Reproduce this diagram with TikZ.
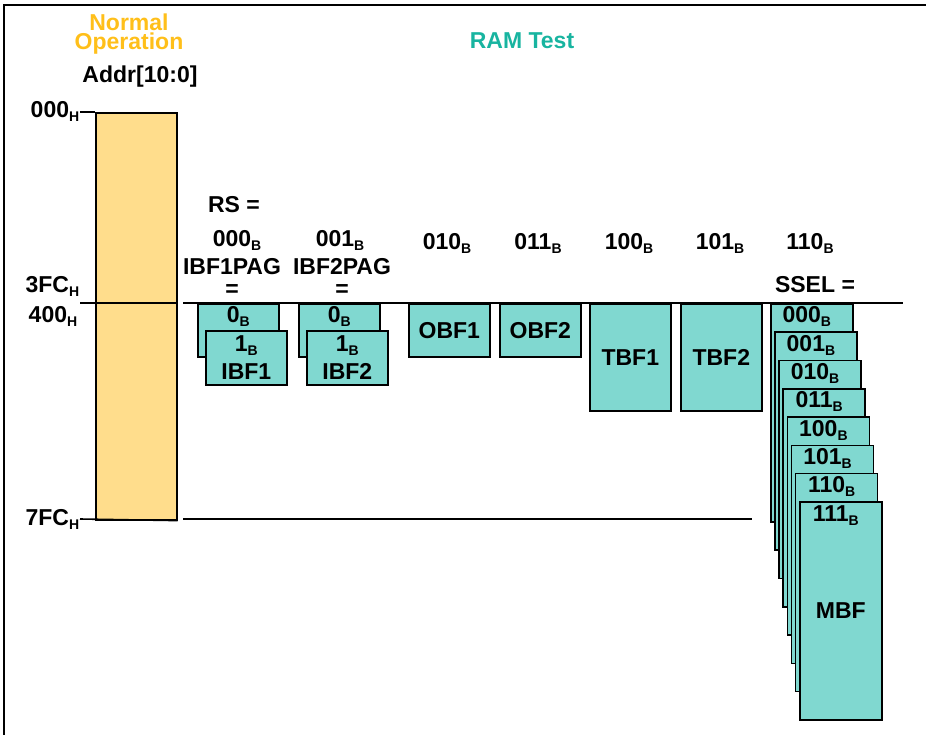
\documentclass[tikz,border=0pt]{standalone}
\usepackage{fontspec}
\setmainfont{Liberation Sans}
\usetikzlibrary{positioning}

\definecolor{bartan}{HTML}{FFDD8C}
\definecolor{bufteal}{HTML}{80D8D0}
\definecolor{normorange}{HTML}{FFBF1A}
\definecolor{ramteal}{HTML}{18B4A0}

% subscript for hex / binary values
\newcommand{\sbs}[1]{\raisebox{-4pt}{\fontsize{14}{14}\selectfont #1}}

\begin{document}
\begin{tikzpicture}[x=1pt, y=-1pt, line width=1.6pt,
    txt/.style={inner sep=0pt, font=\fontsize{23}{26}\selectfont\bfseries},
    bufbox/.style={draw, fill=bufteal, inner sep=0pt, anchor=north west,
      font=\fontsize{23}{28}\selectfont\bfseries, align=center},
    membar/.style={draw, fill=bartan, inner sep=0pt, anchor=north west}]
	\useasboundingbox (0,0) rectangle (926,735);

	% frame (top and left edge)
	\coordinate (frtl) at (4,5);
	\coordinate (frtr) at (926,5);
	\coordinate (frbl) at (4,735);
	\draw[line width=2pt] (frtr) -- (frtl) -- (frbl);

	% titles
	\node[txt, text=normorange, align=center, font=\fontsize{23}{19}\selectfont\bfseries, anchor=base] (normal) at (129,50) {Normal\\Operation};
	\node[txt, text=ramteal, anchor=base] (ramtest) at (522,49) {RAM Test};
	\node[txt, anchor=base] (addr) at (140,83) {Addr[10:0]};

	% normal operation address range
	\node[membar, minimum width=81, minimum height=407] (nbar) at (95,112) {};
	\coordinate (t000) at (80,112);
	\coordinate (t3fc) at (80,303);
	\coordinate (t7fc) at (80,519);
	\draw (t000) -- (nbar.north west);
	\draw (t3fc) -- (t3fc -| nbar.east);
	\draw (t7fc) -- (nbar.south east);
	\node[txt, anchor=base east] (a000) at (80,118) {000\sbs{H}};
	\node[txt, anchor=base east] (a3fc) at (80,292) {3FC\sbs{H}};
	\node[txt, anchor=base east] (a400) at (78,322) {400\sbs{H}};
	\node[txt, anchor=base east] (a7fc) at (80,525) {7FC\sbs{H}};

	% RAM test address lines
	\coordinate (r400w) at (183,303);
	\coordinate (r400e) at (903,303);
	\coordinate (r7fcw) at (183,519);
	\coordinate (r7fce) at (752,519);
	\draw (r400w) -- (r400e);
	\draw (r7fcw) -- (r7fce);

	% RS column labels
	\node[txt, anchor=base] (rs) at (234,213) {RS =};
	\node[txt, anchor=base] (rs0) at (237,247) {000\sbs{B}};
	\node[txt, anchor=base] (pag1) at (232,275) {IBF1PAG};
	\node[txt, anchor=base] (eq1) at (232,296) {=};
	\node[txt, anchor=base] (rs1) at (340,247) {001\sbs{B}};
	\node[txt, anchor=base] (pag2) at (342,275) {IBF2PAG};
	\node[txt, anchor=base] (eq2) at (342,296) {=};
	\node[txt, anchor=base] (rs2) at (447,250) {010\sbs{B}};
	\node[txt, anchor=base] (rs3) at (538,250) {011\sbs{B}};
	\node[txt, anchor=base] (rs4) at (629,250) {100\sbs{B}};
	\node[txt, anchor=base] (rs5) at (720,250) {101\sbs{B}};
	\node[txt, anchor=base] (rs6) at (810,250) {110\sbs{B}};
	\node[txt, anchor=base] (ssel) at (815,293) {SSEL =};

	% input buffers, two pages each
	\node[bufbox, minimum width=81, minimum height=53] (ibf1a) at (197,303) {};
	\node[txt, anchor=base] (ibf1al) at ([yshift=-20pt]ibf1a.north) {0\sbs{B}};
	\node[bufbox, minimum width=81, minimum height=54] (ibf1b) at (205,330) {1\sbs{B}\\IBF1};
	\node[bufbox, minimum width=81, minimum height=53] (ibf2a) at (298,303) {};
	\node[txt, anchor=base] (ibf2al) at ([yshift=-20pt]ibf2a.north) {0\sbs{B}};
	\node[bufbox, minimum width=81, minimum height=54] (ibf2b) at (306,330) {1\sbs{B}\\IBF2};

	% output and transmit buffers
	\node[bufbox, minimum width=81, minimum height=53] (obf1) at (408,303) {OBF1};
	\node[bufbox, minimum width=81, minimum height=53] (obf2) at (499,303) {OBF2};
	\node[bufbox, minimum width=81, minimum height=107] (tbf1) at (589,303) {TBF1};
	\node[bufbox, minimum width=81, minimum height=107] (tbf2) at (680,303) {TBF2};

	% message buffer stack
	\foreach \i/\c in {0/000,1/001,2/010,3/011,4/100,5/101,6/110,7/111} {
		\node[bufbox, minimum width=82, minimum height=218] (ssel\i) at ({770+4.14*\i},{303+28.3*\i}) {};
		\node[txt, anchor=base] (ssellbl\i) at ([xshift=-5pt, yshift=-20pt]ssel\i.north) {\c\sbs{B}};
	}
	\node[txt] (mbf) at (ssel7.center) {MBF};
\end{tikzpicture}
\end{document}
